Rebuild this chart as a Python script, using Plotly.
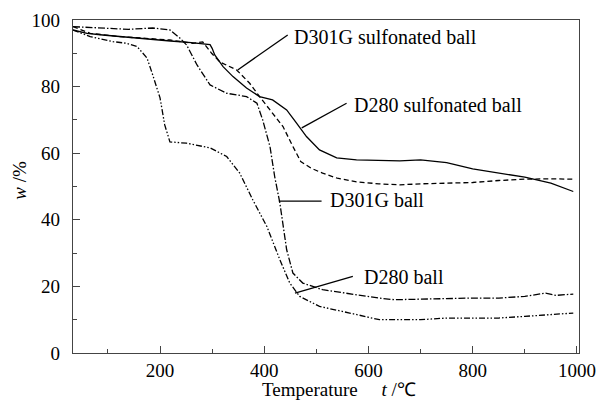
import plotly.graph_objects as go

# D280 sulfonated ball (solid)
t_d280s = [33, 60, 90, 150, 220, 260, 290, 296, 300, 305, 321, 340, 366, 391, 416, 443, 462, 481, 506, 539, 577, 620, 660, 700, 750, 800, 850, 900, 950, 993]
w_d280s = [97, 96, 95.5, 94.6, 93.7, 93.2, 92.8, 92.6, 91.5, 89.5, 86, 83, 79.6, 77, 76, 73, 69, 65, 61, 58.6, 58, 57.8, 57.7, 58, 57.2, 55.3, 54, 52.8, 51, 48.5]

# D301G sulfonated ball (dashed)
t_d301s = [33, 66, 123, 219, 263, 282, 299, 315, 347, 372, 391, 411, 436, 455, 470, 490, 512, 540, 577, 620, 660, 700, 750, 800, 850, 900, 950, 993]
w_d301s = [98, 96, 95, 94, 93, 93.4, 90, 87.4, 85, 81, 77, 73, 68, 62, 57.5, 55.5, 54, 52.5, 51.4, 50.8, 50.5, 50.8, 51, 51.2, 51.8, 52.2, 52.3, 52.2]

# D301G ball (dash-dot)
t_d301 = [33, 90, 140, 186, 219, 238, 251, 271, 296, 328, 366, 386, 397, 411, 420, 430, 443, 455, 474, 512, 577, 620, 650, 700, 750, 800, 850, 900, 940, 960, 993]
w_d301 = [98, 97.6, 97.2, 97.6, 97, 94.6, 92.5, 86.5, 80.5, 78, 77, 75, 70, 62, 53, 45, 31, 24, 21, 19, 17.4, 16.5, 16, 16.2, 16.3, 16.5, 16.5, 17, 18, 17.3, 17.7]

# D280 ball (dash-dot-dot)
t_d280 = [33, 66, 110, 136, 156, 175, 186, 200, 209, 219, 251, 296, 328, 353, 378, 405, 430, 449, 468, 506, 564, 621, 650, 700, 750, 800, 850, 900, 950, 993]
w_d280 = [97, 95, 93.5, 93, 92, 88.6, 83.5, 76.6, 68.5, 63.4, 63, 61.6, 59, 54, 46, 38, 28, 21, 17, 14, 12, 10, 10, 10, 10.5, 10.5, 10.5, 11, 11.5, 12]

x_ticks = [200, 400, 600, 800, 1000]
y_ticks = [0, 20, 40, 60, 80, 100]

labels = ["D301G sulfonated ball", "D280 sulfonated ball", "D301G ball", "D280 ball"]
label_lines = [((349, 85), (445, 95.5)), ((472, 67.6), (558, 75)), ((428, 45.6), (510, 45.6)), ((459, 18), (570, 23))]
label_pos = [(453, 94.9), (568, 74.5), (522, 46), (587, 22.8)]

FONT = "Liberation Serif"
fig = go.Figure()
series = [
    (t_d280s, w_d280s, "solid"),
    (t_d301s, w_d301s, "5px,3px"),
    (t_d301, w_d301, "7px,2px,1.5px,2px"),
    (t_d280, w_d280, "6px,2px,1.5px,2px,1.5px,2px"),
]
for xs, ys, dash in series:
    fig.add_trace(go.Scatter(x=xs, y=ys, mode="lines", line=dict(color="black", width=1.3, dash=dash), showlegend=False, hoverinfo="skip"))

for (p0, p1) in label_lines:
    fig.add_shape(type="line", x0=p0[0], y0=p0[1], x1=p1[0], y1=p1[1], xref="x", yref="y", line=dict(color="black", width=1.3))
for lab, (tx, ty) in zip(labels, label_pos):
    fig.add_annotation(x=tx, y=ty, text=lab, showarrow=False, xanchor="left", yanchor="middle", font=dict(family=FONT, size=20, color="black"))

fig.add_annotation(x=0.526, y=-0.11, xref="paper", yref="paper", text="Temperature&nbsp;&nbsp;&nbsp;&nbsp;&nbsp;<i>t</i> /℃", showarrow=False, xanchor="center", yanchor="middle", font=dict(family=FONT, size=19, color="black"))
fig.add_annotation(x=-0.105, y=0.52, xref="paper", yref="paper", text="<i>w</i> /%", textangle=-90, showarrow=False, xanchor="center", yanchor="middle", font=dict(family=FONT, size=19, color="black"))

axis_common = dict(showgrid=False, zeroline=False, showline=True, linecolor="#444", linewidth=1.2, mirror=True,
                   ticks="inside", ticklen=7, tickcolor="#444", tickwidth=1.2, automargin=False,
                   tickfont=dict(family=FONT, size=19, color="black"))
fig.update_xaxes(range=[33, 1004], tickvals=x_ticks,
                 minor=dict(tickvals=[100, 300, 500, 700, 900], ticks="inside", ticklen=4, tickcolor="#444"), **axis_common)
fig.update_yaxes(range=[0, 100], tickvals=y_ticks, ticklabelstandoff=8,
                 minor=dict(tickvals=[10, 30, 50, 70, 90], ticks="inside", ticklen=4, tickcolor="#444"), **axis_common)

fig.update_layout(width=597, height=407, margin=dict(l=73, r=18, t=20, b=54), plot_bgcolor="white", paper_bgcolor="white",
                  font=dict(family=FONT, color="black"))
fig.write_html("out.html")
